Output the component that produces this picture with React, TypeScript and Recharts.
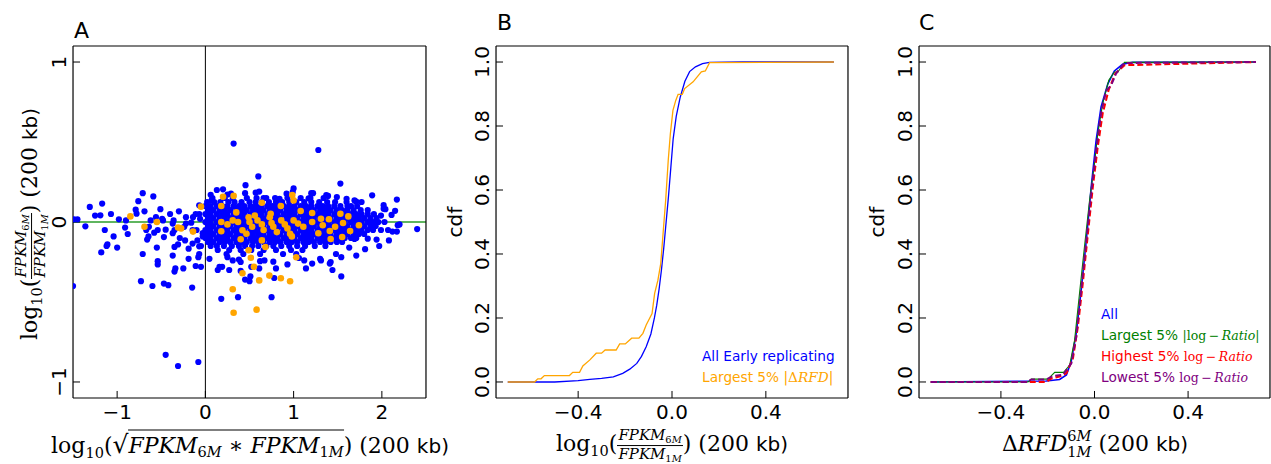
import React from "react"
import { ScatterChart, Scatter, LineChart, Line, XAxis, YAxis, ReferenceLine } from "recharts"

type Pt = [number, number]

// ---- panel A: log10 ratio vs log10 mean expression ----
// dense core of the blue cloud, read row by row (y value, then x positions)
const coreRowY = [0.15, 0.125, 0.1, 0.075, 0.05, 0.025, 0.0, -0.025, -0.05, -0.075, -0.1, -0.125, -0.15, -0.175, -0.2]
const coreRowX: number[][] = [
  [0.08, 0.22, 0.31, 0.47, 0.58, 0.66, 0.79, 0.93, 1.08, 1.19, 1.34],
  [0.02, 0.1, 0.17, 0.26, 0.33, 0.41, 0.5, 0.57, 0.64, 0.72, 0.8, 0.87, 0.95, 1.03, 1.12, 1.2, 1.29, 1.38, 1.47, 1.6],
  [0.0, 0.06, 0.13, 0.19, 0.25, 0.32, 0.38, 0.44, 0.51, 0.57, 0.63, 0.7, 0.76, 0.82, 0.89, 0.95, 1.01, 1.08, 1.14, 1.2, 1.27, 1.33, 1.39, 1.46, 1.53, 1.61, 1.72],
  [0.03, 0.09, 0.16, 0.22, 0.28, 0.35, 0.41, 0.47, 0.54, 0.6, 0.66, 0.73, 0.79, 0.85, 0.92, 0.98, 1.04, 1.11, 1.17, 1.23, 1.3, 1.36, 1.42, 1.49, 1.55, 1.61, 1.68, 1.76, 1.84],
  [0.0, 0.06, 0.13, 0.19, 0.25, 0.32, 0.38, 0.44, 0.51, 0.57, 0.63, 0.7, 0.76, 0.82, 0.89, 0.95, 1.01, 1.08, 1.14, 1.2, 1.27, 1.33, 1.39, 1.46, 1.52, 1.58, 1.65, 1.71, 1.77, 1.84, 1.91],
  [0.03, 0.09, 0.16, 0.22, 0.28, 0.35, 0.41, 0.47, 0.54, 0.6, 0.66, 0.73, 0.79, 0.85, 0.92, 0.98, 1.04, 1.11, 1.17, 1.23, 1.3, 1.36, 1.42, 1.49, 1.55, 1.61, 1.68, 1.74, 1.8, 1.87, 1.94],
  [0.0, 0.06, 0.13, 0.19, 0.25, 0.32, 0.38, 0.44, 0.51, 0.57, 0.63, 0.7, 0.76, 0.82, 0.89, 0.95, 1.01, 1.08, 1.14, 1.2, 1.27, 1.33, 1.39, 1.46, 1.52, 1.58, 1.65, 1.71, 1.77, 1.84, 1.9, 1.96, 2.03],
  [0.03, 0.09, 0.16, 0.22, 0.28, 0.35, 0.41, 0.47, 0.54, 0.6, 0.66, 0.73, 0.79, 0.85, 0.92, 0.98, 1.04, 1.11, 1.17, 1.23, 1.3, 1.36, 1.42, 1.49, 1.55, 1.61, 1.68, 1.74, 1.8, 1.87, 1.93],
  [0.0, 0.06, 0.13, 0.19, 0.25, 0.32, 0.38, 0.44, 0.51, 0.57, 0.63, 0.7, 0.76, 0.82, 0.89, 0.95, 1.01, 1.08, 1.14, 1.2, 1.27, 1.33, 1.39, 1.46, 1.52, 1.58, 1.65, 1.71, 1.77, 1.84, 1.9],
  [0.03, 0.09, 0.16, 0.22, 0.28, 0.35, 0.41, 0.47, 0.54, 0.6, 0.66, 0.73, 0.79, 0.85, 0.92, 0.98, 1.04, 1.11, 1.17, 1.23, 1.3, 1.36, 1.42, 1.49, 1.55, 1.61, 1.68, 1.74, 1.8],
  [0.0, 0.06, 0.13, 0.19, 0.25, 0.32, 0.38, 0.44, 0.51, 0.57, 0.63, 0.7, 0.76, 0.82, 0.89, 0.95, 1.01, 1.08, 1.14, 1.2, 1.27, 1.33, 1.39, 1.46, 1.52, 1.58, 1.65, 1.71],
  [0.03, 0.09, 0.16, 0.22, 0.28, 0.35, 0.41, 0.47, 0.54, 0.6, 0.66, 0.73, 0.79, 0.85, 0.92, 0.98, 1.04, 1.11, 1.17, 1.23, 1.3, 1.36, 1.42, 1.49, 1.55],
  [0.06, 0.13, 0.21, 0.3, 0.38, 0.45, 0.53, 0.6, 0.69, 0.77, 0.86, 0.95, 1.04, 1.13, 1.24, 1.36],
  [0.14, 0.27, 0.4, 0.52, 0.66, 0.8, 0.97, 1.1],
  [0.24, 0.43, 0.62, 0.88],
]

// scattered blue points outside the core
const blueScatter: Pt[] = [
  [-1.5, -0.4], [-1.49, 0.017], [-1.45, 0.017], [-1.36, -0.027], [-1.31, 0.094], [-1.25, 0.04], [-1.19, 0.042],
  [-1.17, 0.115], [-1.14, -0.05], [-1.12, -0.15], [-1.18, -0.19], [-1.11, -0.14], [-1.07, 0.05], [-1.04, -0.09],
  [-1.0, -0.16], [-0.98, 0.017], [-0.9, 0.01], [-0.91, -0.035], [-0.88, -0.075], [-0.78, 0.052], [-0.79, 0.077],
  [-0.76, 0.13], [-0.71, 0.18], [-0.69, 0.067], [-0.71, -0.2], [-0.73, -0.37], [-0.67, -0.05], [-0.645, -0.09],
  [-0.66, -0.11], [-0.64, -0.03], [-0.62, 0.01], [-0.6, -0.4], [-0.59, 0.16], [-0.58, -0.067], [-0.56, 0.03],
  [-0.55, -0.16], [-0.54, -0.245], [-0.54, -0.265], [-0.54, -0.05], [-0.51, 0.08], [-0.49, 0.019], [-0.48, 0.01],
  [-0.47, -0.385], [-0.47, -0.094], [-0.45, -0.048], [-0.45, -0.83], [-0.42, -0.395], [-0.4, 0.05],
  [-0.37, -0.07], [-0.37, -0.21], [-0.37, -0.01], [-0.36, 0.01], [-0.35, -0.156], [-0.35, -0.31], [-0.34, -0.29],
  [-0.35, -0.05], [-0.31, -0.9], [-0.31, -0.14], [-0.3, 0.067], [-0.29, -0.1], [-0.25, -0.29], [-0.24, -0.03],
  [-0.23, -0.115], [-0.22, 0.03], [-0.22, -0.01], [-0.19, -0.23], [-0.19, -0.167], [-0.16, -0.004], [-0.15, -0.41],
  [-0.145, -0.05], [-0.145, -0.135], [-0.14, 0.03], [-0.11, -0.275], [-0.11, 0.05], [-0.1, -0.05], [-0.09, -0.115],
  [-0.08, -0.875], [-0.08, -0.22], [-0.07, 0.104], [-0.07, -0.152], [-0.07, 0.05], [-0.07, -0.2], [-0.06, 0.02],
  [-0.05, -0.28], [-0.05, -0.15], [-0.03, -0.07], [-0.03, -0.09],
  [0.046, -0.23], [0.06, 0.17], [0.07, 0.135], [0.13, 0.2], [0.14, -0.3], [0.16, -0.28], [0.18, -0.48], [0.19, -0.28],
  [0.2, 0.204], [0.25, 0.172], [0.25, -0.22], [0.27, -0.3], [0.29, 0.177], [0.31, -0.24], [0.32, 0.49], [0.37, -0.47],
  [0.38, -0.235], [0.4, -0.306], [0.4, -0.25], [0.45, 0.18], [0.455, 0.23], [0.45, -0.36], [0.5, -0.37], [0.51, -0.34],
  [0.52, -0.28], [0.57, 0.183], [0.6, 0.285], [0.61, 0.19], [0.61, -0.29], [0.62, -0.245], [0.67, -0.24], [0.69, 0.15],
  [0.75, -0.47], [0.77, -0.248], [0.78, -0.35], [0.8, -0.29], [0.84, 0.145], [0.92, 0.177], [0.93, -0.265], [0.99, 0.188],
  [1.0, 0.21], [1.03, -0.2], [1.06, -0.225], [1.12, -0.24], [1.14, -0.29], [1.17, 0.148], [1.2, 0.18], [1.21, -0.26],
  [1.22, 0.18], [1.28, 0.45], [1.3, -0.23], [1.31, -0.24], [1.37, 0.168], [1.39, 0.163], [1.41, -0.26], [1.42, -0.25],
  [1.44, -0.3], [1.48, -0.2], [1.49, 0.156], [1.53, 0.24], [1.54, -0.34], [1.54, -0.22], [1.6, 0.145], [1.63, -0.16],
  [1.65, 0.1], [1.69, 0.135], [1.69, -0.106], [1.71, 0.127], [1.71, -0.21], [1.74, -0.04], [1.77, 0.125], [1.81, -0.17],
  [1.84, -0.104], [1.87, 0.002], [1.89, 0.167], [1.94, -0.11], [1.97, -0.15], [1.99, 0.04], [1.99, -0.05], [2.02, 0.083],
  [2.02, 0.105], [2.04, 0.08], [2.07, -0.05], [2.08, -0.115], [2.11, 0.044], [2.12, -0.06], [2.15, 0.07], [2.17, 0.14],
  [2.17, -0.06], [2.18, -0.02], [2.2, -0.015], [2.4, -0.044],
]

// largest 5% |dRFD| bins (orange)
const orangePoints: Pt[] = [
  [-0.85, 0.035], [-0.69, -0.03], [-0.55, 0.0], [-0.31, -0.035], [-0.275, -0.04], [-0.14, -0.06], [-0.05, 0.096],
  [0.2, 0.158], [0.32, 0.163], [0.18, 0.1], [0.35, 0.06], [0.64, 0.12], [0.855, 0.1], [0.985, 0.169], [1.0, 0.135],
  [1.08, 0.069], [1.21, 0.056], [1.62, 0.035], [1.56, -0.006], [1.64, -0.056], [1.74, -0.02], [1.55, -0.094],
  [1.42, -0.106], [1.41, -0.056], [1.28, -0.07], [1.33, -0.02], [1.31, 0.02], [1.4, 0.017], [1.47, -0.03],
  [0.18, -0.058], [0.25, -0.015], [0.4, -0.108], [0.42, -0.052], [0.465, -0.073], [0.49, 0.03], [0.5, 0.0],
  [0.53, -0.03], [0.56, 0.04], [0.59, 0.01], [0.64, -0.015], [0.66, -0.05], [0.64, -0.115], [0.68, -0.156],
  [0.73, 0.03], [0.75, -0.006], [0.77, -0.03], [0.81, -0.063], [0.86, 0.01], [0.9, -0.015], [0.93, -0.04],
  [0.96, -0.073], [0.98, -0.09], [1.0, 0.01], [1.05, -0.01], [1.11, -0.03], [1.03, -0.22], [0.49, -0.177],
  [0.515, -0.223], [0.55, -0.28], [0.42, -0.32], [0.61, -0.365], [0.855, -0.352], [0.96, -0.37], [0.725, -0.335],
  [0.31, -0.42], [0.32, -0.567], [0.58, -0.548], [0.18, 0.0], [0.31, 0.01], [0.37, 0.0], [0.74, 0.052],
  [1.21, 0.0], [1.53, 0.052],
]

// ---- panel B: cdf of log10 ratio ----
const earlyCdf: Pt[] = [
  [-0.7, 0], [-0.5, 0.0], [-0.4, 0.004], [-0.35, 0.008], [-0.3, 0.011], [-0.25, 0.016], [-0.21, 0.027], [-0.18, 0.04],
  [-0.15, 0.058], [-0.13, 0.08], [-0.11, 0.11], [-0.09, 0.15], [-0.075, 0.2], [-0.065, 0.24], [-0.055, 0.29],
  [-0.045, 0.35], [-0.035, 0.42], [-0.025, 0.5], [-0.015, 0.58], [-0.005, 0.67], [0.005, 0.76], [0.018, 0.83],
  [0.035, 0.89], [0.055, 0.94], [0.075, 0.97], [0.1, 0.985], [0.13, 0.995], [0.16, 0.999], [0.3, 1.0], [0.69, 1.0],
]
const largestRfdCdf: Pt[] = [
  [-0.7, 0], [-0.586, 0], [-0.572, 0.01], [-0.558, 0.01], [-0.544, 0.02], [-0.437, 0.02], [-0.423, 0.03],
  [-0.394, 0.03], [-0.38, 0.05], [-0.35, 0.069], [-0.323, 0.09], [-0.3, 0.09], [-0.285, 0.1], [-0.238, 0.1],
  [-0.223, 0.119], [-0.199, 0.119], [-0.172, 0.137], [-0.141, 0.137], [-0.124, 0.152], [-0.11, 0.178],
  [-0.085, 0.214], [-0.074, 0.277], [-0.06, 0.318], [-0.048, 0.37], [-0.038, 0.464], [-0.027, 0.568],
  [-0.016, 0.693], [-0.007, 0.776], [0.004, 0.849], [0.016, 0.88], [0.026, 0.899], [0.044, 0.899], [0.054, 0.917],
  [0.09, 0.938], [0.125, 0.969], [0.142, 0.972], [0.16, 0.998], [0.69, 1.0],
]

// ---- panel C: cdf of dRFD ----
const allCdf: Pt[] = [
  [-0.7, 0], [-0.206, 0.003], [-0.149, 0.008], [-0.12, 0.022], [-0.1, 0.063], [-0.078, 0.152], [-0.057, 0.287],
  [-0.035, 0.443], [-0.014, 0.61], [0.007, 0.755], [0.028, 0.86], [0.057, 0.932], [0.085, 0.972], [0.12, 0.993],
  [0.163, 0.999], [0.69, 1.0],
]
const largestLogRatioCdf: Pt[] = [
  [-0.7, 0], [-0.284, 0], [-0.27, 0.009], [-0.199, 0.009], [-0.17, 0.03], [-0.132, 0.03], [-0.106, 0.053],
  [-0.085, 0.131], [-0.064, 0.277], [-0.043, 0.422], [-0.021, 0.568], [0.0, 0.683], [0.014, 0.776], [0.035, 0.87],
  [0.061, 0.943], [0.085, 0.969], [0.1, 0.969], [0.128, 0.999], [0.69, 1.0],
]
const highestLogRatioCdf: Pt[] = [
  [-0.7, 0], [-0.206, 0], [-0.184, 0.011], [-0.149, 0.017], [-0.12, 0.027], [-0.092, 0.074], [-0.071, 0.173],
  [-0.05, 0.308], [-0.028, 0.464], [-0.007, 0.61], [0.014, 0.735], [0.035, 0.839], [0.061, 0.914], [0.089, 0.964],
  [0.128, 0.99], [0.69, 1.0],
]
const lowestLogRatioCdf: Pt[] = [
  [-0.7, 0], [-0.29, 0], [-0.27, 0.008], [-0.206, 0.008], [-0.177, 0.019], [-0.135, 0.022], [-0.099, 0.058],
  [-0.078, 0.142], [-0.057, 0.287], [-0.035, 0.443], [-0.014, 0.589], [0.007, 0.724], [0.028, 0.839], [0.05, 0.91],
  [0.071, 0.927], [0.092, 0.964], [0.128, 0.997], [0.69, 1.0],
]

// ---- ticks ----
const xTicksA = [-1, 0, 1, 2]
const xMinorA = [-0.5, 0.5, 1.5]
const yTicksA = [-1, 0, 1]
const yMinorA = [-0.5, 0.5]
const xTicksCdf = [-0.4, 0, 0.4]
const xMinorCdf = [-0.7, -0.6, -0.5, -0.3, -0.2, -0.1, 0.1, 0.2, 0.3, 0.5, 0.6, 0.7]
const yTicksCdf = [0, 0.2, 0.4, 0.6, 0.8, 1.0]
const yMinorCdf = [0.05, 0.1, 0.15, 0.25, 0.3, 0.35, 0.45, 0.5, 0.55, 0.65, 0.7, 0.75, 0.85, 0.9, 0.95]

const SANS = "'DejaVu Sans', sans-serif"
const SERIF = "'DejaVu Serif', serif"

const toXY = (pts: Pt[]) => pts.map(([x, y]) => ({ x, y }))
const coreBlue: Pt[] = coreRowY.flatMap((y, i) => coreRowX[i].map((x) => [x, y] as Pt))
const blueData = toXY([...coreBlue, ...blueScatter])
const orangeData = toXY(orangePoints)

const neg = (s: string) => s.replace("-", "\u2212")
const fmtInt = (v: number) => neg(String(v))
const fmt1 = (v: number) => neg(v.toFixed(1))

const xTick = (fmt: (v: number) => string) => (p: any) => (
  <text x={p.x} y={p.y} dy="0.71em" textAnchor="middle" fontSize={20} fontFamily={SANS} fill="#000">
    {fmt(p.payload.value)}
  </text>
)
const yTick = (fmt: (v: number) => string) => (p: any) => (
  <text x={p.x} y={p.y} transform={`rotate(-90 ${p.x} ${p.y})`} textAnchor="middle" fontSize={20} fontFamily={SANS} fill="#000">
    {fmt(p.payload.value)}
  </text>
)

// box frame with inward major/minor ticks on all four sides
const THIN = 0.01
function frame(xd: number[], yd: number[], xMaj: number[], xMin: number[], yMaj: number[], yMin: number[], fx: any, fy: any) {
  const c: any = { type: "number", allowDataOverflow: true, stroke: "#000", interval: 0, axisLine: { strokeWidth: 1.2 }, tickLine: { strokeWidth: 1 } }
  const minor: any = { ...c, tick: false, tickSize: -4, axisLine: false }
  return [
    <XAxis key="xb" xAxisId="x" dataKey="x" {...c} domain={xd} ticks={xMaj} height={THIN} tickSize={-7} tickMargin={14} tick={xTick(fx)} />,
    <XAxis key="xbm" xAxisId="xbm" {...minor} domain={xd} ticks={xMin} height={THIN} />,
    <XAxis key="xt" xAxisId="xt" orientation="top" {...c} domain={xd} ticks={xMaj} height={THIN} tickSize={-7} tick={false} />,
    <XAxis key="xtm" xAxisId="xtm" orientation="top" {...minor} domain={xd} ticks={xMin} height={THIN} />,
    <YAxis key="yl" yAxisId="y" dataKey="y" {...c} domain={yd} ticks={yMaj} width={THIN} tickSize={-7} tickMargin={14} tick={yTick(fy)} />,
    <YAxis key="ylm" yAxisId="ylm" {...minor} domain={yd} ticks={yMin} width={THIN} />,
    <YAxis key="yr" yAxisId="yr" orientation="right" {...c} domain={yd} ticks={yMaj} width={THIN} tickSize={-7} tick={false} />,
    <YAxis key="yrm" yAxisId="yrm" orientation="right" {...minor} domain={yd} ticks={yMin} width={THIN} />,
  ]
}

const dot = (fill: string, r: number) => (p: any) => <circle cx={p.cx} cy={p.cy} r={r} fill={fill} />

const sub = (t: string) => <span style={{ fontSize: "0.66em", position: "relative", top: "0.32em" }}>{t}</span>
const isub = (d: string, m: string) => (
  <span style={{ fontSize: "0.66em", position: "relative", top: "0.3em" }}>
    {d}<i>{m}</i>
  </span>
)
const FPKM = (d: string) => (
  <>
    <i>FPKM</i>
    {isub(d, "M")}
  </>
)
const Frac = ({ num, den }: { num: React.ReactNode; den: React.ReactNode }) => (
  <span style={{ display: "inline-flex", flexDirection: "column", alignItems: "center", verticalAlign: "middle", fontSize: "0.68em", lineHeight: 1 }}>
    <span style={{ borderBottom: "1px solid #000", padding: "0 1px 2px" }}>{num}</span>
    <span style={{ paddingTop: 1 }}>{den}</span>
  </span>
)
const kb = <span style={{ fontFamily: SANS, fontSize: 20 }}>kb)</span>

const mathLabel: React.CSSProperties = { position: "absolute", whiteSpace: "nowrap", fontFamily: SERIF, fontSize: 22, lineHeight: 1, color: "#000" }

export default function App() {
  const m = { top: 46, bottom: 66 }
  return (
    <div style={{ position: "absolute", left: 0, top: 0, width: 1271, height: 464, background: "#fff", fontFamily: SANS, overflow: "hidden" }}>
      <div style={{ position: "absolute", left: 0, top: 0 }}>
        <ScatterChart width={440} height={464} margin={{ ...m, left: 73, right: 14 }}>
          {frame([-1.5, 2.5], [-1.1, 1.1], xTicksA, xMinorA, yTicksA, yMinorA, fmtInt, fmtInt)}
          <Scatter xAxisId="x" yAxisId="y" data={blueData} isAnimationActive={false} shape={dot("#0000ff", 3.1)} />
          <Scatter xAxisId="x" yAxisId="y" data={orangeData} isAnimationActive={false} shape={dot("#ffa500", 3.3)} />
          <ReferenceLine xAxisId="x" yAxisId="y" x={0} stroke="#000" strokeWidth={1} />
          <ReferenceLine xAxisId="x" yAxisId="y" y={0} stroke="#2a9d2a" strokeWidth={1.3} />
        </ScatterChart>
      </div>
      <div style={{ position: "absolute", left: 440, top: 0 }}>
        <LineChart width={420} height={464} margin={{ ...m, left: 56, right: 12 }}>
          {frame([-0.75, 0.75], [-0.05, 1.05], xTicksCdf, xMinorCdf, yTicksCdf, yMinorCdf, fmt1, fmt1)}
          <Line xAxisId="x" yAxisId="y" data={toXY(earlyCdf)} dataKey="y" type="linear" stroke="#0000ff" strokeWidth={1.3} dot={false} isAnimationActive={false} />
          <Line xAxisId="x" yAxisId="y" data={toXY(largestRfdCdf)} dataKey="y" type="linear" stroke="#ffa500" strokeWidth={1.3} dot={false} isAnimationActive={false} />
        </LineChart>
      </div>
      <div style={{ position: "absolute", left: 860, top: 0 }}>
        <LineChart width={411} height={464} margin={{ ...m, left: 59, right: 1 }}>
          {frame([-0.75, 0.75], [-0.05, 1.05], xTicksCdf, xMinorCdf, yTicksCdf, yMinorCdf, fmt1, fmt1)}
          <Line xAxisId="x" yAxisId="y" data={toXY(allCdf)} dataKey="y" type="linear" stroke="#0000ff" strokeWidth={1.6} dot={false} isAnimationActive={false} />
          <Line xAxisId="x" yAxisId="y" data={toXY(largestLogRatioCdf)} dataKey="y" type="linear" stroke="#008000" strokeWidth={1.1} dot={false} isAnimationActive={false} />
          <Line xAxisId="x" yAxisId="y" data={toXY(highestLogRatioCdf)} dataKey="y" type="linear" stroke="#ff0000" strokeWidth={2} strokeDasharray="6 3" dot={false} isAnimationActive={false} />
          <Line xAxisId="x" yAxisId="y" data={toXY(lowestLogRatioCdf)} dataKey="y" type="linear" stroke="#800080" strokeWidth={2} strokeDasharray="6 3" dot={false} isAnimationActive={false} />
        </LineChart>
      </div>

      {/* axis labels with math */}
      <div style={{ ...mathLabel, left: 250, top: 444, transform: "translate(-50%, -50%)" }}>
        log{sub("10")}(<span style={{ fontSize: 25 }}>√</span>
        <span style={{ borderTop: "1.2px solid #000", paddingTop: 2 }}>
          {FPKM("6")} ∗ {FPKM("1")}
        </span>
        ) (200 {kb}
      </div>
      <div style={{ ...mathLabel, left: 31, top: 224, transform: "translate(-50%, -50%) rotate(-90deg)" }}>
        log{sub("10")}(<Frac num={FPKM("6")} den={FPKM("1")} />) (200 {kb}
      </div>
      <div style={{ ...mathLabel, left: 672, top: 445, transform: "translate(-50%, -50%)" }}>
        log{sub("10")}(<Frac num={FPKM("6")} den={FPKM("1")} />) (200 {kb}
      </div>
      <div style={{ ...mathLabel, left: 1095, top: 445, transform: "translate(-50%, -50%)" }}>
        Δ<i>RFD</i>
        <span style={{ display: "inline-flex", flexDirection: "column", fontSize: "0.66em", lineHeight: 1.1, verticalAlign: "0.7em" }}>
          <span>
            6<i>M</i>
          </span>
          <span>
            1<i>M</i>
          </span>
        </span>{" "}
        (200 {kb}
      </div>

      <svg width={1271} height={464} style={{ position: "absolute", left: 0, top: 0, pointerEvents: "none" }}>
        <g fontFamily={SANS} fill="#000">
          <text x={74} y={38} fontSize={22}>A</text>
          <text x={497} y={30} fontSize={22}>B</text>
          <text x={919} y={30} fontSize={22}>C</text>
          <text x={462} y={222} fontSize={20} textAnchor="middle" transform="rotate(-90 462 222)">cdf</text>
          <text x={884} y={222} fontSize={20} textAnchor="middle" transform="rotate(-90 884 222)">cdf</text>
        </g>
        <g fontFamily={SANS} fontSize={13.7}>
          <text x={702} y={361} fill="#0000ff">All Early replicating</text>
          <text x={702} y={382} fill="#ffa500">
            Largest 5% |<tspan fontFamily={SERIF}>Δ</tspan>
            <tspan fontFamily={SERIF} fontStyle="italic">RFD</tspan>|
          </text>
          <text x={1101} y={319} fill="#0000ff">All</text>
          <text x={1101} y={340} fill="#008000">
            Largest 5% <tspan fontFamily={SERIF} fontSize={12.5}>|log{"\u2009\u2212\u2009"}</tspan>
            <tspan fontFamily={SERIF} fontSize={12.5} fontStyle="italic">Ratio</tspan>
            <tspan fontFamily={SERIF} fontSize={12.5}>|</tspan>
          </text>
          <text x={1101} y={361} fill="#ff0000">
            Highest 5% <tspan fontFamily={SERIF} fontSize={12.5}>log{"\u2009\u2212\u2009"}</tspan>
            <tspan fontFamily={SERIF} fontSize={12.5} fontStyle="italic">Ratio</tspan>
          </text>
          <text x={1101} y={382} fill="#800080">
            Lowest 5% <tspan fontFamily={SERIF} fontSize={12.5}>log{"\u2009\u2212\u2009"}</tspan>
            <tspan fontFamily={SERIF} fontSize={12.5} fontStyle="italic">Ratio</tspan>
          </text>
        </g>
      </svg>
    </div>
  )
}
